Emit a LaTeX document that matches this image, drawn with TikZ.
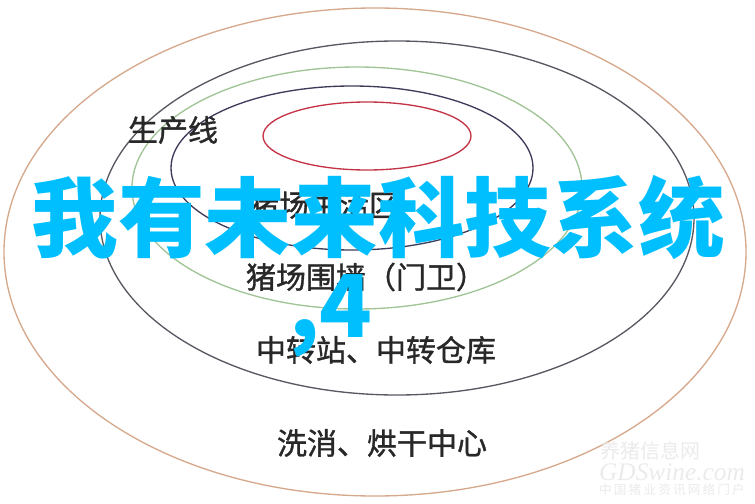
\documentclass[tikz,border=0pt]{standalone}
\usepackage{fontspec}
\newfontfamily\cjk{Noto Sans CJK SC}
\newfontfamily\cjklbl[FakeBold=1.2]{Noto Sans CJK SC}
\newfontfamily\wmserif{Liberation Serif}

\definecolor{ringtan}{RGB}{214,168,140}
\definecolor{ringgray}{RGB}{88,88,98}
\definecolor{ringgreen}{RGB}{160,196,150}
\definecolor{ringnavy}{RGB}{60,60,90}
\definecolor{ringred}{RGB}{196,52,70}
\definecolor{labelgray}{RGB}{40,40,40}
\definecolor{titlecyan}{RGB}{0,191,255}
\definecolor{wmgray}{RGB}{236,234,234}

\tikzset{every picture/.style={line width=0.75pt}}
\tikzset{
  lbl/.style={inner sep=0.75pt, text=labelgray, font=\cjklbl\fontsize{22.5}{27}\selectfont},
  bigtitle/.style={inner sep=0.75pt, text=titlecyan, font=\cjk\bfseries\fontsize{65}{70}\selectfont},
  wmtext/.style={inner sep=0.75pt, text=wmgray}
}

\begin{document}
\begin{tikzpicture}[x=0.75pt,y=0.75pt,yscale=-1,xscale=1]
\useasboundingbox (0,0) rectangle (755,503);

%Shape: Ellipse (outer)
\draw [color=ringtan, line width=1pt] (375,252) ellipse [x radius=371, y radius=244];
%Shape: Ellipse
\draw [color=ringgray, line width=1pt] (397,218) ellipse [x radius=297, y radius=177];
%Shape: Ellipse
\draw [color=ringgreen, line width=1pt] (357,188) ellipse [x radius=225, y radius=121];
%Shape: Ellipse
\draw [color=ringnavy, line width=1pt] (352,168) ellipse [x radius=181, y radius=82];
%Shape: Ellipse (inner)
\draw [color=ringred, line width=1pt] (367,136) ellipse [x radius=104, y radius=34];

% Text Node
\draw (173,130) node (prodline) [lbl] {生产线};
% Text Node
\draw (324,205) node (livearea) [lbl] {猪场生活区};
% Text Node
\draw (366,277) node (fencegate) [lbl] {猪场围墙（门卫）};
% Text Node
\draw (376,350) node (transit) [lbl] {中转站、中转仓库};
% Text Node
\draw (382,443) node (washdry) [lbl] {洗消、烘干中心};

% Text Node
\draw (378,217) node (headline) [bigtitle] {我有未来科技系统};
% Text Node
\draw (331,337) node (chapnum) [bigtitle, anchor=base] {,4};

% Text Node (watermark)
\draw (650,451) node (wmname) [wmtext, font=\cjk\fontsize{15}{16}\selectfont] {养猪信息网};
\draw (672,472) node (wmsite) [wmtext, font=\wmserif\itshape\fontsize{19}{20}\selectfont] {GDSwine.com};
\draw (672,490) node (wmslogan) [wmtext, font=\cjk\fontsize{9.5}{10}\selectfont] {中\,国\,猪\,业\,资\,讯\,网\,络\,门\,户};

\end{tikzpicture}
\end{document}
